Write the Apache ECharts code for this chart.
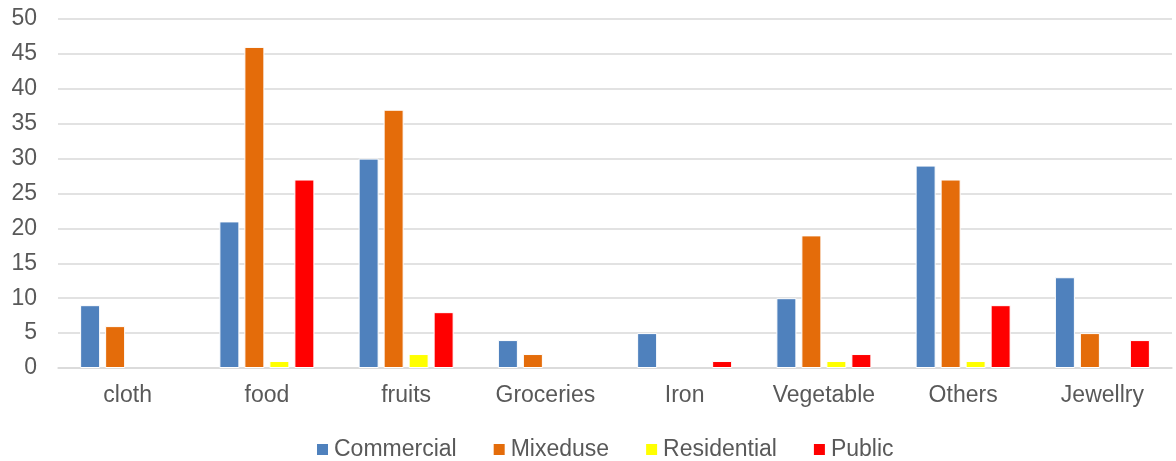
<!DOCTYPE html>
<html><head><meta charset="utf-8">
<script src="https://cdn.jsdelivr.net/npm/echarts@6/dist/echarts.min.js"></script>
<style>html,body{margin:0;padding:0;background:#fff}#c{width:1176px;height:461px}</style>
</head><body><div id="c"></div>
<script>
const categories = ['cloth','food','fruits','Groceries','Iron','Vegetable','Others','Jewellry'];
const commercial = [9,21,30,4,5,10,29,13];
const mixeduse = [6,46,37,2,0,19,27,5];
const residential = [0,1,2,0,0,1,1,0];
const publicUse = [0,27,8,0,1,2,9,4];
const seriesNames = ['Commercial','Mixeduse','Residential','Public'];
const colors = ['#4f81bd','#e46c0a','#ffff00','#ff0000'];
const yTicks = {min:0,max:50,interval:5};

const font = 'Liberation Sans, Arial, sans-serif';
const data = [commercial, mixeduse, residential, publicUse];
const chart = echarts.init(document.getElementById('c'));
chart.setOption({
  animation:false,
  color: colors,
  textStyle:{fontFamily:font},
  grid:{left:58,right:4,top:19,bottom:93},
  legend:{top:433,left:310,itemWidth:13,itemHeight:13,itemGap:35,icon:'rect',
    textStyle:{fontSize:23,color:'#595959',fontFamily:font}},
  xAxis:{type:'category',data:categories,
    axisLine:{lineStyle:{color:'#d9d9d9',width:1.5}},axisTick:{show:false},
    axisLabel:{fontSize:23,color:'#595959',margin:16,fontFamily:font}},
  yAxis:{type:'value',min:yTicks.min,max:yTicks.max,interval:yTicks.interval,
    axisLine:{show:false},axisTick:{show:false},
    splitLine:{lineStyle:{color:'#d9d9d9',width:1.5}},
    axisLabel:{fontSize:23,color:'#595959',margin:21,fontFamily:font}},
  series: seriesNames.map((n,i)=>({name:n,type:'bar',data:data[i].map(v=>v===0?'-':v),barWidth:20,barGap:'25%',
    itemStyle:{borderColor:'#fff',borderWidth:1}}))
});
</script></body></html>
